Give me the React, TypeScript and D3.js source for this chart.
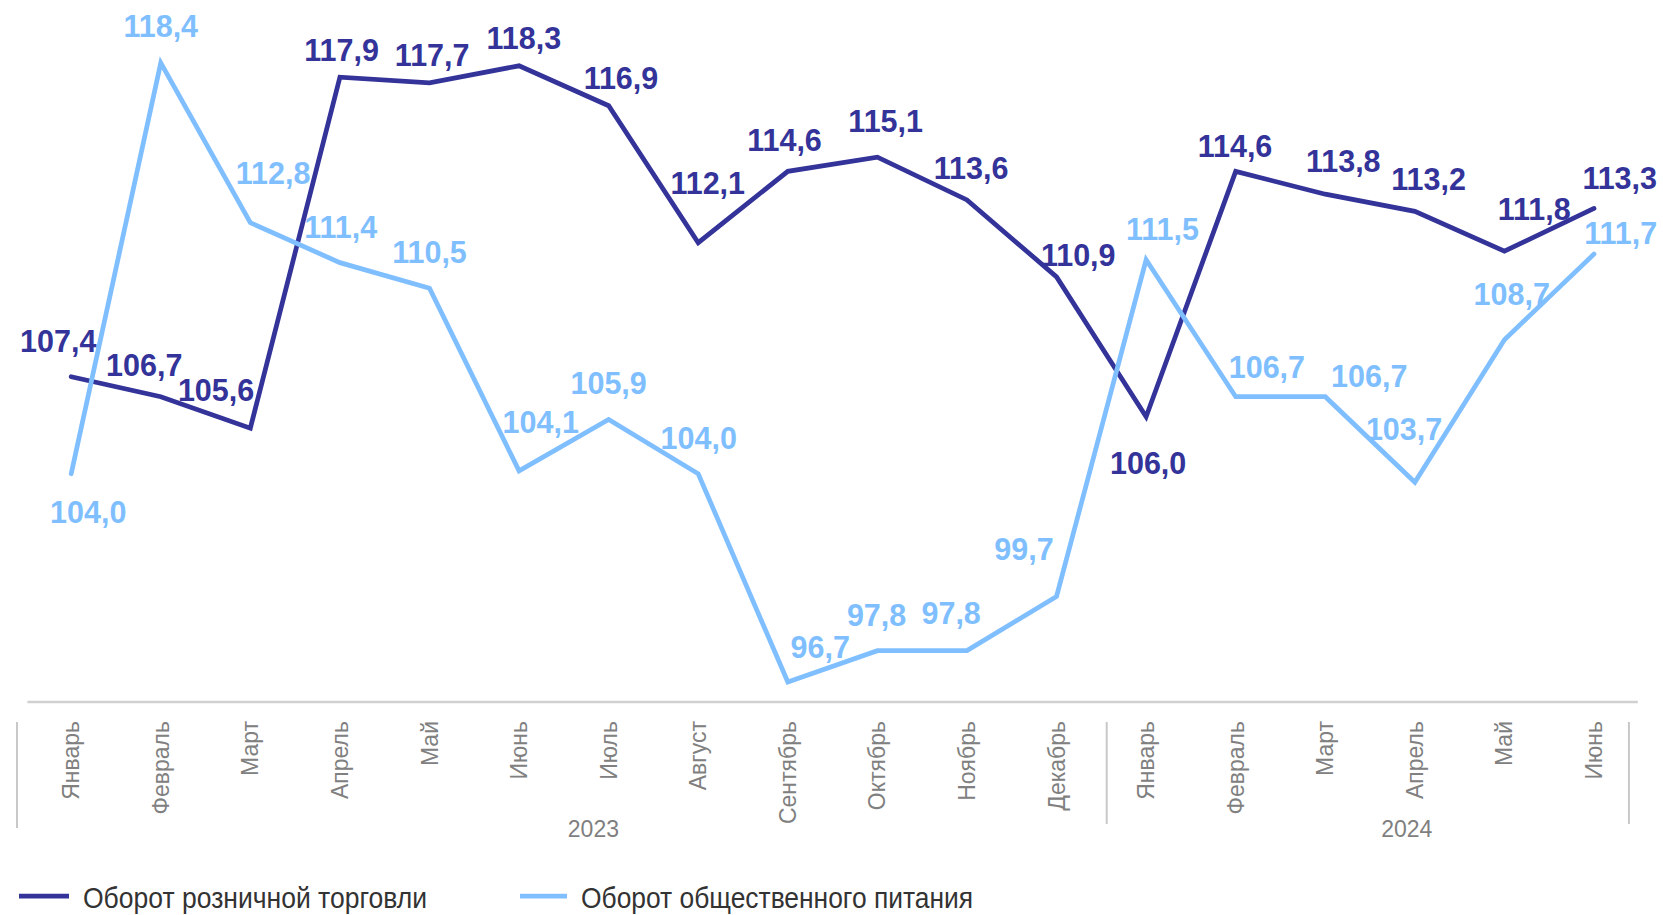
import React from 'react';
import * as d3 from 'd3';

// ---- data ----
const months: string[] = [
  'Январь', 'Февраль', 'Март', 'Апрель', 'Май', 'Июнь', 'Июль', 'Август',
  'Сентябрь', 'Октябрь', 'Ноябрь', 'Декабрь',
  'Январь', 'Февраль', 'Март', 'Апрель', 'Май', 'Июнь',
];
const years: string[] = ['2023', '2024'];
const retail: number[] = [107.4, 106.7, 105.6, 117.9, 117.7, 118.3, 116.9, 112.1, 114.6, 115.1, 113.6, 110.9, 106.0, 114.6, 113.8, 113.2, 111.8, 113.3];
const catering: number[] = [104.0, 118.4, 112.8, 111.4, 110.5, 104.1, 105.9, 104.0, 96.7, 97.8, 97.8, 99.7, 111.5, 106.7, 106.7, 103.7, 108.7, 111.7];
const seriesNames: string[] = ['Оборот розничной торговли', 'Оборот общественного питания'];

// ---- layout (label offsets relative to their point, px) ----
const retailDx = [-13, -16.5, -34.3, 1.7, 2.7, 4.8, 12.3, 9.5, -3.3, 8.3, 4.2, 21.7, 2, -0.7, 18, 13.7, 29.8, 25.7];
const retailDy = [-35.8, -31.4, -38.6, -27, -27.7, -27.5, -28.2, -59.5, -31.8, -36, -31.6, -22.3, 46.5, -25.2, -33, -32, -42.5, -30.2];
const cateringDx = [17, 0, 22.7, 0.8, 0, 21.7, 0, 0.5, 32.5, -0.8, -15.8, -32.5, 16.3, 31.2, 44, -10.8, 7.3, 26.7];
const cateringDy = [38.2, -36.5, -50, -36, -36.5, -48.5, -36.4, -35.3, -35.3, -35.7, -37.2, -47.5, -31, -30.2, -21, -53, -46, -20.8];
const separatorIdx = [-0.605, 11.56, 17.39];
const yearIdx = [5.83, 14.91];

const W = 1663;
const H = 915;
const FONT = 'Liberation Sans, Arial, Helvetica, sans-serif';
const DARK = '#333399';
const LIGHT = '#80BFFF';

const fmt = (v: number) => v.toFixed(1).replace('.', ',');

export default function App() {
  const x = d3.scaleBand<number>().domain(d3.range(months.length)).range([26.4, 1638.8]).padding(0);
  const cx = (i: number) => (x(i) as number) + x.bandwidth() / 2;
  const xf = (f: number) => cx(0) + f * x.step();
  const y = d3.scaleLinear().domain([96, 120]).range([702, 17.3]);
  const line = d3.line<number>().x((_, i) => cx(i)).y((d) => y(d));

  const series = [
    { values: retail, color: DARK, dx: retailDx, dy: retailDy },
    { values: catering, color: LIGHT, dx: cateringDx, dy: cateringDy },
  ];

  const [x0, x1] = x.range();

  return (
    <svg width={W} height={H} style={{ position: 'absolute', left: 0, top: 0, background: '#fff' }} fontFamily={FONT}>
      <rect x={0} y={0} width={W} height={H} fill="#fff" />
      {/* axis line */}
      <line x1={x0 + 1} x2={x1 - 1} y1={y(96)} y2={y(96)} stroke="#d0d0d0" strokeWidth={2.5} />
      {/* group separators */}
      {separatorIdx.map((f, k) => (
        <line key={'s' + k} x1={xf(f)} x2={xf(f)} y1={722} y2={k === 0 ? 828 : 824} stroke="#c8c8c8" strokeWidth={2} />
      ))}
      {/* month labels */}
      {months.map((m, i) => (
        <text key={'m' + i} transform={`translate(${cx(i)},721) rotate(-90)`} textAnchor="end" dy="0.35em" fontSize={23} fill="#808080">
          {m}
        </text>
      ))}
      {/* years */}
      {years.map((yr, k) => (
        <text key={'y' + k} x={xf(yearIdx[k])} y={836.5} textAnchor="middle" fontSize={23} fill="#7f7f7f">
          {yr}
        </text>
      ))}
      {/* lines */}
      {series.map((s, k) => (
        <path key={'l' + k} d={line(s.values) as string} fill="none" stroke={s.color} strokeWidth={4.75} strokeLinecap="round" strokeLinejoin="miter" />
      ))}
      {/* data labels */}
      {series.map((s, k) =>
        s.values.map((v, i) => (
          <text
            key={'t' + k + '-' + i}
            x={cx(i) + s.dx[i]}
            y={y(v) + s.dy[i] + 11}
            textAnchor="middle"
            fontSize={30.5}
            fontWeight="bold"
            fill={s.color}
          >
            {fmt(v)}
          </text>
        ))
      )}
      {/* legend */}
      <line x1={19} x2={69} y1={896} y2={896} stroke={DARK} strokeWidth={4.75} />
      <text x={83} y={908} fontSize={29} fill="#333333" textLength={344} lengthAdjust="spacingAndGlyphs">
        {seriesNames[0]}
      </text>
      <line x1={520} x2={567} y1={896} y2={896} stroke={LIGHT} strokeWidth={4.75} />
      <text x={581} y={908} fontSize={29} fill="#333333" textLength={392} lengthAdjust="spacingAndGlyphs">
        {seriesNames[1]}
      </text>
    </svg>
  );
}
